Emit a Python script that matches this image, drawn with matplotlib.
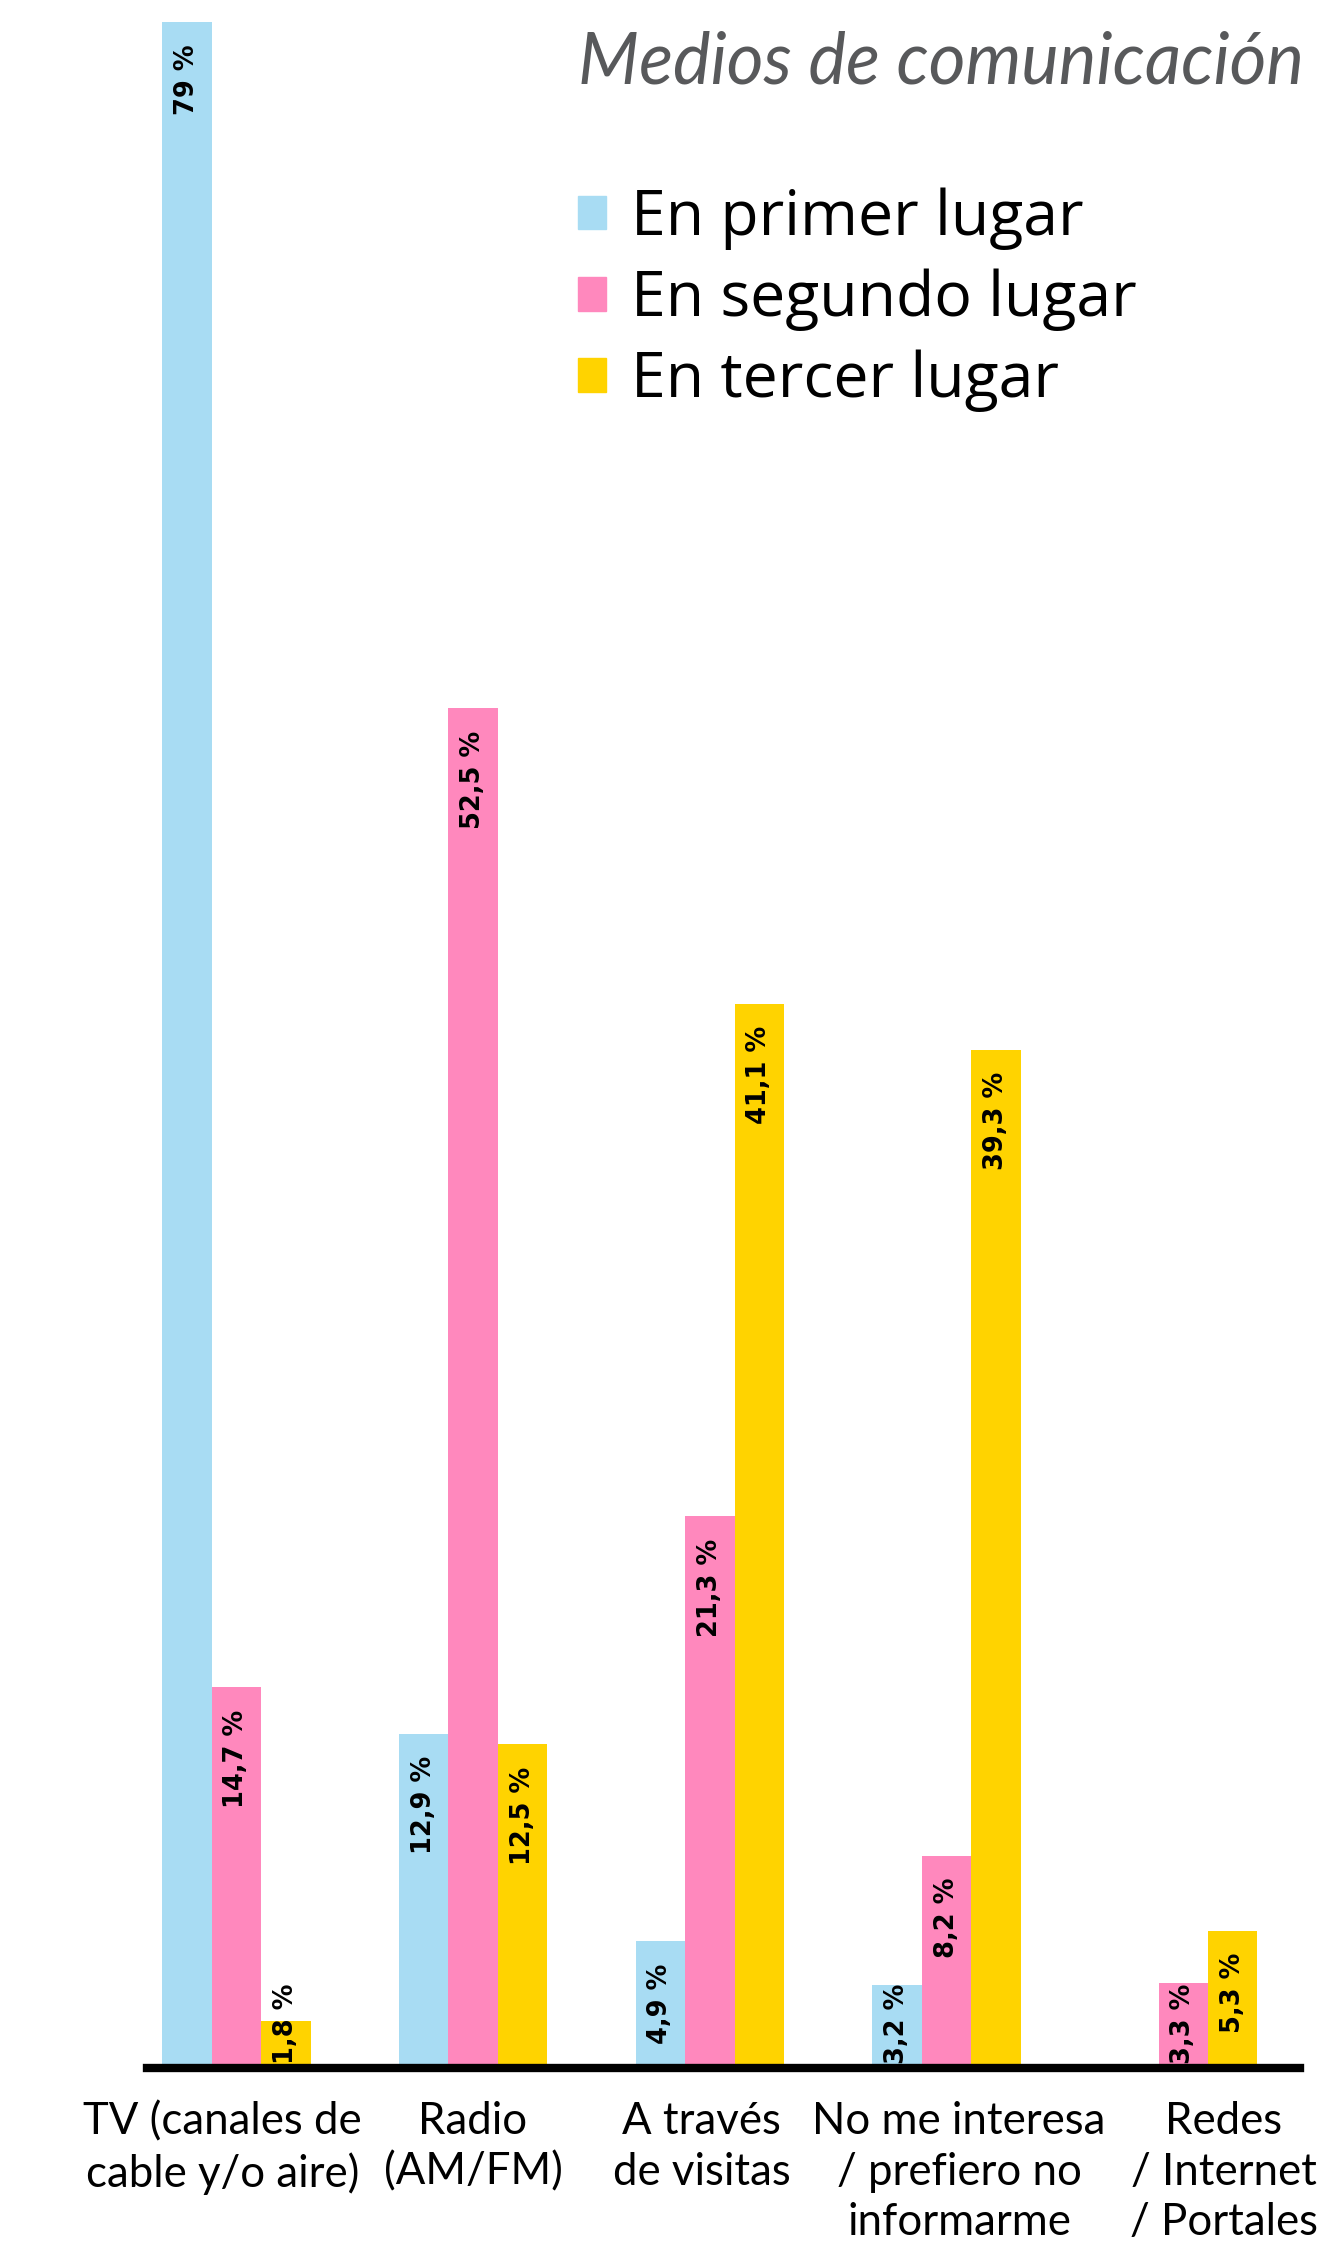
import numpy as np
import matplotlib.pyplot as plt
from matplotlib.patches import Patch

# Medios de comunicación: share of responses by rank
categorias = ['TV (canales de\ncable y/o aire)', 'Radio\n(AM/FM)', 'A través\nde visitas',
              'No me interesa\n/ prefiero no\ninformarme', 'Redes\n/ Internet\n/ Portales']
primer_lugar = [79, 12.9, 4.9, 3.2, np.nan]
segundo_lugar = [14.7, 52.5, 21.3, 8.2, 3.3]
tercer_lugar = [1.8, 12.5, 41.1, 39.3, 5.3]
series_nombres = ['En primer lugar', 'En segundo lugar', 'En tercer lugar']
colores = ['#a8dcf3', '#ff88bd', '#ffd300']

fig = plt.figure(figsize=(13.27, 22.43), dpi=100)
ax = fig.add_axes([0.111, 0.078, 0.869, 0.922])

x = np.arange(len(categorias))
ancho = 0.209
for k, (vals, col) in enumerate(zip([primer_lugar, segundo_lugar, tercer_lugar], colores)):
    pos = x + (k - 1) * ancho
    ax.bar(pos, vals, width=ancho, color=col, linewidth=0)
    for xp, v in zip(pos, vals):
        if np.isnan(v):
            continue
        txt = f'{v:g}'.replace('.', ',') + ' %'
        if v > 4:
            ax.text(xp, v - 0.85, txt, rotation=90, ha='center', va='top',
                    fontsize=18.5, fontweight='bold', family='DejaVu Sans')
        else:
            ax.text(xp, 0.15, txt, rotation=90, ha='center', va='bottom',
                    fontsize=18.5, fontweight='bold', family='DejaVu Sans')

ax.set_xlim(-0.376, 4.495)
ax.set_ylim(0, 79.85)
for s in ['top', 'left', 'right']:
    ax.spines[s].set_visible(False)
ax.spines['bottom'].set_linewidth(6)
ax.spines['bottom'].set_color('black')
ax.set_yticks([])
ax.set_xticks([])

# category labels under each group
desplaz = [-10, 0, -6, 9, 29]
for xi, lab, dx in zip(x, categorias, desplaz):
    ax.annotate(lab, xy=(xi, 0), xycoords=('data', 'axes fraction'),
                xytext=(dx, -24), textcoords='offset points',
                ha='center', va='top', multialignment='center',
                fontsize=31.5, family='Lato', linespacing=1.28)

fig.text(0.983, 0.972, 'Medios de comunicación', ha='right', va='center',
         fontsize=51, style='italic', color='#58595b', family='Lato')

handles = [Patch(color=c, label=n) for c, n in zip(colores, series_nombres)]
fig.legend(handles=handles, loc='upper left', bbox_to_anchor=(0.393, 0.9415),
           frameon=False, handlelength=0.45, handleheight=0.45,
           handletextpad=0.4, labelspacing=0.3,
           prop={'family': 'Open Sans', 'size': 45})

fig.savefig('out.png', dpi=100)
